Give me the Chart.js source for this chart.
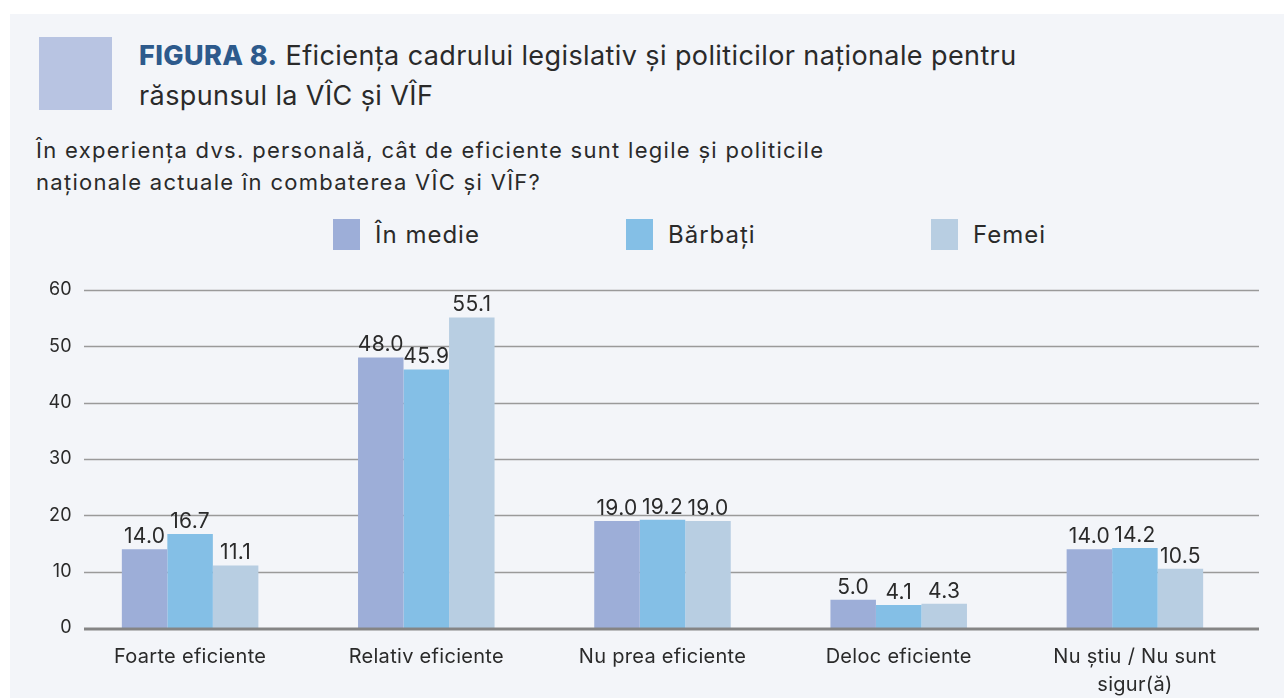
<!DOCTYPE html>
<html>
<head>
<meta charset="utf-8">
<script src="https://cdn.jsdelivr.net/npm/chart.js@4"></script>
<style>
  body { margin: 0; background: #fff; font-family: Inter, "Noto Sans", sans-serif; color: #2a2a2a; }
  .panel { position: absolute; left: 10px; top: 14px; width: 1274px; height: 684px; background: #f3f5f9; }
  .square { position: absolute; left: 39px; top: 37px; width: 73px; height: 73px; background: #b8c4e2; }
  .title { position: absolute; left: 139px; top: 36px; font-size: 27px; letter-spacing: 0.4px; line-height: 40px; white-space: nowrap; }
  .title b { color: #2d5a8c; font-weight: 800; }
  .subtitle { position: absolute; left: 36px; top: 134px; font-size: 22px; letter-spacing: 1.3px; line-height: 32px; white-space: nowrap; }
  .legend { position: absolute; top: 219px; left: 0; height: 31px; }
  .legend div { position: absolute; top: 0; height: 31px; display: flex; align-items: center; font-size: 24px; letter-spacing: 1px; white-space: nowrap; }
  .legend span { display: inline-block; width: 27px; height: 31px; margin-right: 15px; }
  .chartbox { position: absolute; left: 0; top: 270px; width: 1284px; height: 428px; }
</style>
</head>
<body>
<div class="panel"></div>
<div class="square"></div>
<div class="title"><b>FIGURA 8.</b> Eficiența cadrului legislativ și politicilor naționale pentru<br>răspunsul la VÎC și VÎF</div>
<div class="subtitle">În experiența dvs. personală, cât de eficiente sunt legile și politicile<br>naționale actuale în combaterea VÎC și VÎF?</div>
<div class="legend" id="legend"></div>
<div class="chartbox"><canvas id="chart"></canvas></div>
<script>
const categories = ['Foarte eficiente', 'Relativ eficiente', 'Nu prea eficiente', 'Deloc eficiente', ['Nu știu / Nu sunt', 'sigur(ă)']];
const seriesNames = ['În medie', 'Bărbați', 'Femei'];
const inMedie = [14.0, 48.0, 19.0, 5.0, 14.0];
const barbati = [16.7, 45.9, 19.2, 4.1, 14.2];
const femei = [11.1, 55.1, 19.0, 4.3, 10.5];
const yTicks = [0, 10, 20, 30, 40, 50, 60];

const colors = ['#9daed8', '#84bfe6', '#b8cee2'];
const legendX = [333, 626, 931];

const legend = document.getElementById('legend');
seriesNames.forEach((name, i) => {
  const item = document.createElement('div');
  item.style.left = legendX[i] + 'px';
  item.innerHTML = `<span style="background:${colors[i]}"></span>${name}`;
  legend.appendChild(item);
});

const font = 'Inter, "Noto Sans", sans-serif';

// grid lines from the y scale, drawn wider than the category area
const gridPlugin = {
  id: 'grid',
  beforeDraw(chart) {
    chart.ctx.letterSpacing = '0.3px';
  },
  beforeDatasetsDraw(chart) {
    const ctx = chart.ctx;
    const y = chart.scales.y;
    ctx.save();
    ctx.strokeStyle = '#9a9a9a';
    ctx.lineWidth = 1.5;
    yTicks.forEach(v => {
      if (v === 0) return;
      const py = Math.round(y.getPixelForValue(v)) + 0.5;
      ctx.beginPath();
      ctx.moveTo(84, py);
      ctx.lineTo(1259, py);
      ctx.stroke();
    });
    ctx.restore();
  },
  afterDatasetsDraw(chart) {
    const ctx = chart.ctx;
    const y = chart.scales.y;
    ctx.save();
    ctx.strokeStyle = '#858585';
    ctx.lineWidth = 3;
    const py = y.getPixelForValue(0) + 1;
    ctx.beginPath();
    ctx.moveTo(84, py);
    ctx.lineTo(1259, py);
    ctx.stroke();

    ctx.fillStyle = '#2a2a2a';
    ctx.font = '21px ' + font;
    ctx.textAlign = 'center';
    ctx.textBaseline = 'bottom';
    chart.data.datasets.forEach((ds, i) => {
      chart.getDatasetMeta(i).data.forEach((bar, j) => {
        ctx.fillText(ds.data[j].toFixed(1), bar.x, bar.y - 2);
      });
    });
    ctx.restore();
  }
};

new Chart(document.getElementById('chart'), {
  type: 'bar',
  data: {
    labels: categories,
    datasets: [
      { label: seriesNames[0], data: inMedie, backgroundColor: colors[0] },
      { label: seriesNames[1], data: barbati, backgroundColor: colors[1] },
      { label: seriesNames[2], data: femei, backgroundColor: colors[2] }
    ]
  },
  options: {
    responsive: true,
    maintainAspectRatio: false,
    animation: false,
    datasets: {
      bar: { categoryPercentage: 0.578, barPercentage: 1 }
    },
    layout: { padding: { top: 20, right: 31, left: 0, bottom: 0 } },
    plugins: {
      legend: { display: false },
      tooltip: { enabled: false }
    },
    scales: {
      x: {
        grid: { display: false, drawTicks: false },
        border: { display: false },
        ticks: { color: '#2a2a2a', font: { family: font, size: 20, lineHeight: 1.4 }, padding: 15, maxRotation: 0 },
        afterFit: s => { s.height = 70; }
      },
      y: {
        min: 0,
        max: 60,
        grid: { display: false, drawTicks: false },
        border: { display: false },
        ticks: { stepSize: 10, color: '#2a2a2a', font: { family: font, size: 18 }, padding: 0 },
        afterFit: s => { s.width = 72; }
      }
    }
  },
  plugins: [gridPlugin]
});
</script>
</body>
</html>
